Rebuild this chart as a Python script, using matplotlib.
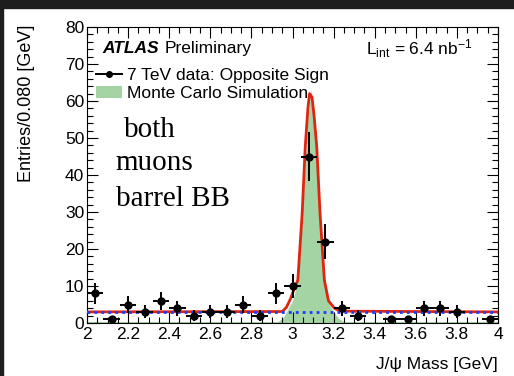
import matplotlib
matplotlib.use("Agg")
import matplotlib.pyplot as plt
from matplotlib.lines import Line2D
from matplotlib.patches import Patch, Rectangle
from matplotlib.ticker import MultipleLocator
import numpy as np

plt.rcParams["font.family"] = ["Liberation Sans", "DejaVu Sans"]
plt.rcParams["mathtext.fontset"] = "custom"
plt.rcParams["mathtext.rm"] = "Liberation Sans"

# opposite-sign data, 0.080 GeV bins
bin_centers = [2.04, 2.12, 2.20, 2.28, 2.36, 2.44, 2.52, 2.60, 2.68, 2.76, 2.84, 2.92,
               3.00, 3.08, 3.16, 3.24, 3.32, 3.48, 3.56, 3.64, 3.72, 3.80, 3.96]
entries = [8, 1, 5, 3, 6, 4, 2, 3, 3, 5, 2, 8,
           10, 45, 22, 4, 2, 1, 1, 4, 4, 3, 1]
bin_half_width = 0.04

# fit curve (signal + flat background)
fit_x = [2.00, 2.95, 2.97, 2.99, 3.01, 3.026, 3.047, 3.062, 3.075, 3.083, 3.095,
         3.105, 3.118, 3.134, 3.155, 3.175, 3.204, 3.23, 4.00]
fit_y = [3.0, 3.1, 4.2, 6.5, 9.5, 11.6, 29.6, 47.6, 58.0, 62.0, 61.0,
         56.0, 47.6, 29.6, 11.6, 6.0, 4.0, 3.2, 3.0]

# background-only component
bkg_x = [2.0, 4.0]
bkg_y = [3.0, 3.0]

# Monte Carlo simulation shape
mc_x = [2.00, 2.93, 2.955, 2.975, 3.00, 3.02, 3.04, 3.06, 3.075, 3.09, 3.105,
        3.12, 3.14, 3.16, 3.18, 3.20, 3.225, 3.25, 4.00]
mc_y = [0.4, 0.4, 1.5, 3.5, 6.0, 10.0, 22.0, 42.0, 56.0, 63.0, 57.0,
        44.0, 24.0, 10.0, 5.0, 3.0, 1.2, 0.4, 0.4]

region_lines = ["both", "muons", "barrel BB"]
region_x = [2.18, 2.14, 2.14]
region_y = [52.2, 43.2, 33.5]

fig = plt.figure(figsize=(5.14, 3.76), dpi=100)
ax = fig.add_axes([87 / 514, 53 / 376, 411 / 514, 296 / 376])

green = "#a4d4a4"
ax.fill_between(mc_x, 0, mc_y, color=green, lw=0, zorder=1)
ax.plot(fit_x, fit_y, color="#e0240f", lw=2.0, zorder=3)
ax.plot(bkg_x, bkg_y, color="#1a3cff", lw=2.0, ls=(0, (1, 1.5)), zorder=4)

err = np.sqrt(np.array(entries, dtype=float))
ax.errorbar(bin_centers, entries, xerr=bin_half_width, yerr=err, fmt="o",
            color="black", ms=5, elinewidth=1.4, capsize=0, zorder=5)

ax.set_xlim(2, 4)
ax.set_ylim(0, 80)
ax.xaxis.set_major_locator(MultipleLocator(0.2))
ax.xaxis.set_minor_locator(MultipleLocator(0.05))
ax.yaxis.set_major_locator(MultipleLocator(10))
ax.yaxis.set_minor_locator(MultipleLocator(2))
ax.tick_params(which="both", direction="in", top=True, right=True, labelsize=12.5, width=0.8)
ax.tick_params(which="major", length=8)
ax.tick_params(which="minor", length=4)
ax.tick_params(axis="x", pad=3)
ax.tick_params(axis="y", pad=2)
ax.xaxis.set_major_formatter(plt.FuncFormatter(lambda v, p: f"{v:g}"))
for sp in ax.spines.values():
    sp.set_linewidth(0.8)

fig.text(27 / 514, 1 - 25 / 376, "Entries/0.080 [GeV]", rotation=90,
         ha="center", va="top", fontsize=13)
fig.text(498 / 514, 1 - 365 / 376, "J/\u03c8 Mass [GeV]", ha="right", va="center", fontsize=12.5)

ax.text(0.038, 0.928, "ATLAS", transform=ax.transAxes, fontsize=12.5,
        fontweight="bold", fontstyle="italic", va="center")
ax.text(0.19, 0.928, "Preliminary", transform=ax.transAxes, fontsize=12.5, va="center")
ax.text(0.68, 0.928, r"L$_{\rm int}$ = 6.4 $\rm nb^{-1}$", transform=ax.transAxes,
        fontsize=12.5, va="center")

handles = [
    Line2D([], [], color="black", marker="o", ms=4, lw=1.4),
    Patch(facecolor=green, edgecolor="none"),
]
ax.legend(handles, ["7 TeV data: Opposite Sign", "Monte Carlo Simulation"],
          loc="upper left", bbox_to_anchor=(0.018, 0.868), frameon=False,
          fontsize=12.5, handlelength=1.5, handletextpad=0.3, labelspacing=0.15,
          borderaxespad=0, borderpad=0.1)

for label, tx, ty in zip(region_lines, region_x, region_y):
    ax.text(tx, ty, label, fontsize=21,
            family=["Liberation Serif", "DejaVu Serif"], va="center")

# dark screenshot frame
fig.patches.append(Rectangle((0, 1 - 8 / 376), 1, 8 / 376, transform=fig.transFigure,
                             color="#1e1e1e", zorder=10))
fig.patches.append(Rectangle((0, 0), 3 / 514, 1, transform=fig.transFigure,
                             color="#1e1e1e", zorder=10))

fig.savefig("out.png", dpi=100, facecolor="white")
